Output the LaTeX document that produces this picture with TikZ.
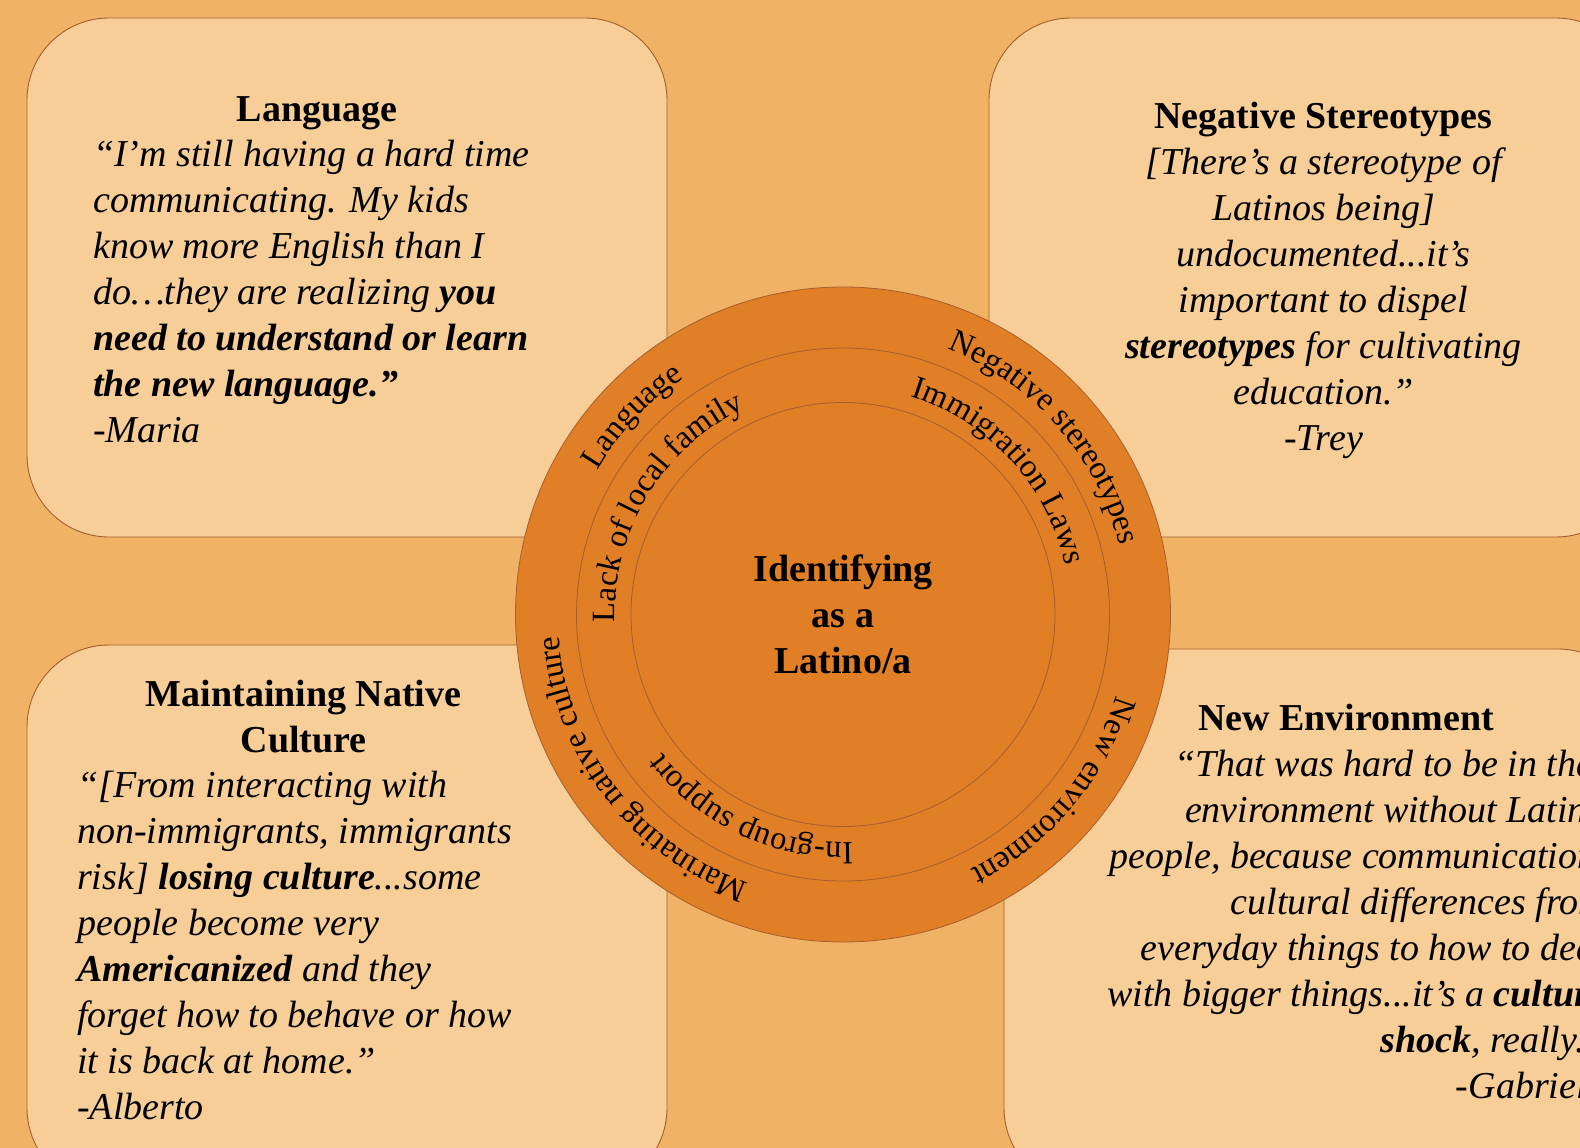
\documentclass[tikz,border=0pt]{standalone}
\usepackage{fontspec}
\setmainfont{Liberation Serif}
\usetikzlibrary{decorations.text}
\definecolor{bgc}{HTML}{F0B264}
\definecolor{boxc}{HTML}{F7CD98}
\definecolor{ringc}{HTML}{E07F26}
\definecolor{edgec}{HTML}{A65E2E}
\newcommand{\ringfont}{\fontsize{32.5}{32.5}\selectfont}
% label along a clockwise arc: text, start angle, end angle, radius
\newcommand{\ringlabel}[4]{%
  \path[ringtxt={#1}] (c) ++(#2:#4) arc[start angle=#2, end angle=#3, radius=#4];}
\begin{document}
\begin{tikzpicture}[x=1pt,y=1pt,
  card/.style={draw=edgec, line width=0.9pt, fill=boxc, rounded corners=82pt},
  ringline/.style={draw=edgec, line width=0.8pt},
  headtxt/.style={font=\fontsize{38}{46}\selectfont\bfseries, inner sep=0pt, align=center, anchor=north},
  quotetxt/.style={font=\fontsize{38}{46}\selectfont\itshape, inner sep=0pt},
  ringtxt/.style={decorate, decoration={text along path, text align=center, text={|\ringfont|#1}}},
]
\useasboundingbox (0,0) rectangle (1580,-1148);
\clip (0,0) rectangle (1580,-1148);
\fill[bgc] (0,0) rectangle (1580,-1148);

% quote cards
\path[card] (27,-18) rectangle (667,-537);
\path[card] (989,-18) rectangle (1638,-537);
\path[card] (27,-645) rectangle (667,-1190);
\path[card] (1004,-649) rectangle (1640,-1190);

% card texts
\node[headtxt] (h1) at (317,-89.2) {\strut Language};
\node[quotetxt, align=left, anchor=north west] (q1) at (93,-133.8) {\strut “I’m still having a hard time\\
communicating. My kids\\
know more English than I\\
do…they are realizing \textbf{you}\\
\textbf{need to understand or learn}\\
\textbf{the new language.”}\\
-Maria};

\node[headtxt] (h2) at (1323.5,-95.8) {\strut Negative Stereotypes};
\node[quotetxt, align=center, anchor=north] (q2) at (1323.5,-141.8) {\strut [There’s a stereotype of\\
Latinos being]\\
undocumented...it’s\\
important to dispel\\
\textbf{stereotypes} for cultivating\\
education.”\\
-Trey};

\node[headtxt] (h3) at (303.6,-673.8) {\strut Maintaining Native\\Culture};
\node[quotetxt, align=left, anchor=north west] (q3) at (77,-764.8) {\strut “[From interacting with\\
non-immigrants, immigrants\\
risk] \textbf{losing culture}...some\\
people become very\\
\textbf{Americanized} and they\\
forget how to behave or how\\
it is back at home.”\\
-Alberto};

\node[headtxt] (h4) at (1346,-698.5) {\strut New Environment};
\node[quotetxt, align=right, anchor=north east] (q4) at (1606,-743.8) {\strut “That was hard to be in that\\
environment without Latino\\
people, because communication,\\
cultural differences from\\
everyday things to how to deal\\
with bigger things...it’s a \textbf{culture}\\
\textbf{shock}, really.”\\
-Gabriela};

% central rings
\coordinate (c) at (843,-614.5);
\draw[ringline, fill=ringc] (c) circle[radius=327.5];
\draw[ringline] (c) circle[radius=266.5];
\draw[ringline] (c) circle[radius=212];

% ring labels (outer band)
\ringlabel{Language}{216.7}{56.7}{285}
\ringlabel{Negative stereotypes}{121.3}{-38.7}{285}
\ringlabel{New environment}{40}{-120}{285}
\ringlabel{Marinating native culture}{297.5}{137.5}{285}
% ring labels (middle band)
\ringlabel{Lack of local family}{228.7}{68.7}{228}
\ringlabel{Immigration Laws}{122.5}{-37.5}{228}
\ringlabel{In-group support}{324.9}{164.9}{228}

% centre label
\node[headtxt] (core) at (843,-548.8) {\strut Identifying\\as a\\Latino/a};
\end{tikzpicture}
\end{document}
